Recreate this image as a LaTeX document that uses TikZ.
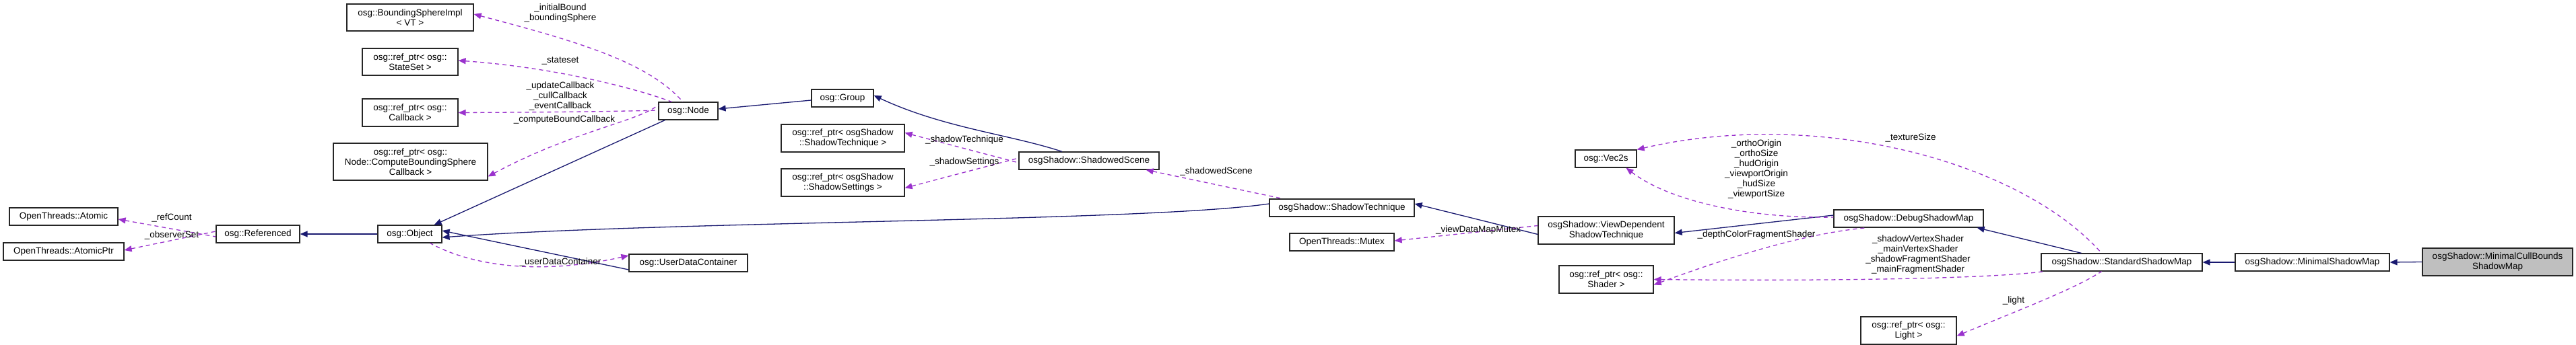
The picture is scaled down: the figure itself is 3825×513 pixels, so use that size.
\documentclass[tikz,border=0pt]{standalone}
\usepackage{fontspec}
\setmainfont{Liberation Sans}
\usetikzlibrary{arrows.meta}
\definecolor{inhc}{HTML}{191970}
\definecolor{usec}{HTML}{9A32CD}
\tikzset{
  box/.style={draw=black!85, fill=white, line width=1.2pt, inner sep=0pt, align=center, font=\fontsize{13.5}{15}\selectfont},
  lbl/.style={inner sep=0pt, align=center, font=\fontsize{13.5}{15}\selectfont},
  inh/.style={draw=inhc, line width=1.3pt, {Triangle[length=11pt,width=9pt]}-},
  use/.style={draw=usec, line width=1.3pt, dash pattern=on 6pt off 5pt, {Triangle[length=11pt,width=9pt]}-},
}
\begin{document}
\begin{tikzpicture}[x=1pt,y=-1pt]
\useasboundingbox[fill=white] (0,0) rectangle (3825,513);
% nodes
\node[box, minimum width=188, minimum height=40] (bsi) at (609,26) {osg::BoundingSphereImpl\\< VT >};
\node[box, minimum width=142, minimum height=40] (stateset) at (609,92) {osg::ref\_ptr< osg::\\StateSet >};
\node[box, minimum width=142, minimum height=41] (callback) at (609,167.5) {osg::ref\_ptr< osg::\\Callback >};
\node[box, minimum width=229, minimum height=55] (cbs) at (609.5,240.5) {osg::ref\_ptr< osg::\\Node::ComputeBoundingSphere\\Callback >};
\node[box, minimum width=161, minimum height=26] (atomic) at (94.5,322) {OpenThreads::Atomic};
\node[box, minimum width=179, minimum height=26] (atomicptr) at (94.5,374) {OpenThreads::AtomicPtr};
\node[box, minimum width=124, minimum height=26] (referenced) at (383,348) {osg::Referenced};
\node[box, minimum width=95, minimum height=26] (object) at (608.5,348) {osg::Object};
\node[box, minimum width=88, minimum height=26] (node) at (1022,165) {osg::Node};
\node[box, minimum width=92, minimum height=26] (group) at (1251,146) {osg::Group};
\node[box, minimum width=183, minimum height=41] (refst) at (1251.5,205.5) {osg::ref\_ptr< osgShadow\\::ShadowTechnique >};
\node[box, minimum width=183, minimum height=41] (refss) at (1251.5,271.5) {osg::ref\_ptr< osgShadow\\::ShadowSettings >};
\node[box, minimum width=208, minimum height=26] (scene) at (1617,239) {osgShadow::ShadowedScene};
\node[box, minimum width=176, minimum height=26] (udc) at (1022,391) {osg::UserDataContainer};
\node[box, minimum width=215, minimum height=26] (stech) at (1992.5,309) {osgShadow::ShadowTechnique};
\node[box, minimum width=91, minimum height=26] (vec) at (2384.5,236) {osg::Vec2s};
\node[box, minimum width=202, minimum height=41] (vdep) at (2385,342.5) {osgShadow::ViewDependent\\ShadowTechnique};
\node[box, minimum width=155, minimum height=26] (mutex) at (1992.5,360) {OpenThreads::Mutex};
\node[box, minimum width=140, minimum height=41] (shader) at (2385,415.5) {osg::ref\_ptr< osg::\\Shader >};
\node[box, minimum width=222, minimum height=26] (debug) at (2834,325) {osgShadow::DebugShadowMap};
\node[box, minimum width=142, minimum height=41] (light) at (2834,491.5) {osg::ref\_ptr< osg::\\Light >};
\node[box, minimum width=239, minimum height=26] (ssm) at (3150.5,390) {osgShadow::StandardShadowMap};
\node[box, minimum width=229, minimum height=26] (msm) at (3433.5,390) {osgShadow::MinimalShadowMap};
\node[box, fill=black!25, minimum width=223, minimum height=41] (mcb) at (3708.5,389.5) {osgShadow::MinimalCullBounds\\ShadowMap};
% inheritance
\draw[inh] (referenced.east) -- (object.west);
\draw[inh] ([xshift=-12]object.north east) -- ([xshift=10]node.south west);
\draw[inh] ([yshift=3]node.east) -- ([yshift=-3]group.west);
\draw[inh] ([yshift=4]group.east) .. controls (1400,190) and (1500,200) .. ([xshift=-40]scene.north);
\draw[inh] ([yshift=-5]object.east) .. controls (1000,328) and (1700,330) .. ([yshift=6]stech.west);
\draw[inh] ([yshift=5]object.east) -- ([yshift=-10]udc.west);
\draw[inh] ([yshift=6]stech.east) -- ([yshift=-6]vdep.west);
\draw[inh] ([yshift=-4]vdep.east) -- ([yshift=5]debug.west);
\draw[inh] ([xshift=-10]debug.south east) -- ([xshift=-60]ssm.north);
\draw[inh] (ssm.east) -- (msm.west);
\draw[inh] (msm.east) -- (mcb.west);
% usage
\draw[use] ([yshift=-4]atomic.east) -- ([yshift=-4]referenced.west);
\draw[use] ([yshift=2]atomicptr.east) -- ([yshift=4]referenced.west);
\draw[use] ([yshift=5]bsi.east) .. controls (850,60) and (960,90) .. ([xshift=-8]node.north);
\draw[use] ([yshift=2]stateset.east) .. controls (820,100) and (940,130) .. ([xshift=20]node.north west);
\draw[use] (callback.east) .. controls (800,167) and (900,166) .. ([yshift=1]node.west);
\draw[use] ([yshift=-22]cbs.east) .. controls (850,195) and (950,180) .. ([yshift=9]node.west);
\draw[use] ([yshift=11]udc.west) .. controls (800,410) and (700,395) .. ([xshift=-18]object.south east);
\draw[use] ([yshift=8]refst.east) -- ([yshift=-3]scene.west);
\draw[use] ([yshift=-8]refss.east) -- ([yshift=4]scene.west);
\draw[use] ([xshift=-20]scene.south east) -- ([xshift=20]stech.north west);
\draw[use] ([yshift=2]mutex.east) -- ([yshift=7]vdep.west);
\draw[use] ([xshift=30]vec.south) .. controls (2480,300) and (2600,325) .. ([yshift=2]debug.west);
\draw[use] (vec.north east) .. controls (2700,160) and (3000,240) .. ([xshift=-30]ssm.north);
\draw[use] ([yshift=-8]shader.east) .. controls (2600,370) and (2700,345) .. ([xshift=50]debug.south west);
\draw[use] (shader.east) .. controls (2700,418) and (2950,415) .. ([xshift=5]ssm.south west);
\draw[use] ([yshift=-8]light.east) .. controls (3000,460) and (3080,430) .. ([xshift=-30]ssm.south);
% labels
\node[lbl] (l1) at (255,324) {\_refCount};
\node[lbl] (l2) at (255,350) {\_observerSet};
\node[lbl] (l3) at (832,20) {\_initialBound\\\_boundingSphere};
\node[lbl] (l4) at (832,90) {\_stateset};
\node[lbl] (l5) at (832,143) {\_updateCallback\\\_cullCallback\\\_eventCallback};
\node[lbl] (l6) at (838,178) {\_computeBoundCallback};
\node[lbl] (l7) at (832,390) {\_userDataContainer};
\node[lbl] (l8) at (1432,208) {\_shadowTechnique};
\node[lbl] (l9) at (1432,241) {\_shadowSettings};
\node[lbl] (l10) at (1806,255) {\_shadowedScene};
\node[lbl] (l11) at (2195,342) {\_viewDataMapMutex};
\node[lbl] (l12) at (2608,252) {\_orthoOrigin\\\_orthoSize\\\_hudOrigin\\\_viewportOrigin\\\_hudSize\\\_viewportSize};
\node[lbl] (l13) at (2837,205) {\_textureSize};
\node[lbl] (l14) at (2608,349) {\_depthColorFragmentShader};
\node[lbl] (l15) at (2848,379) {\_shadowVertexShader\\\_mainVertexShader\\\_shadowFragmentShader\\\_mainFragmentShader};
\node[lbl] (l16) at (2990,447) {\_light};
\end{tikzpicture}
\end{document}
